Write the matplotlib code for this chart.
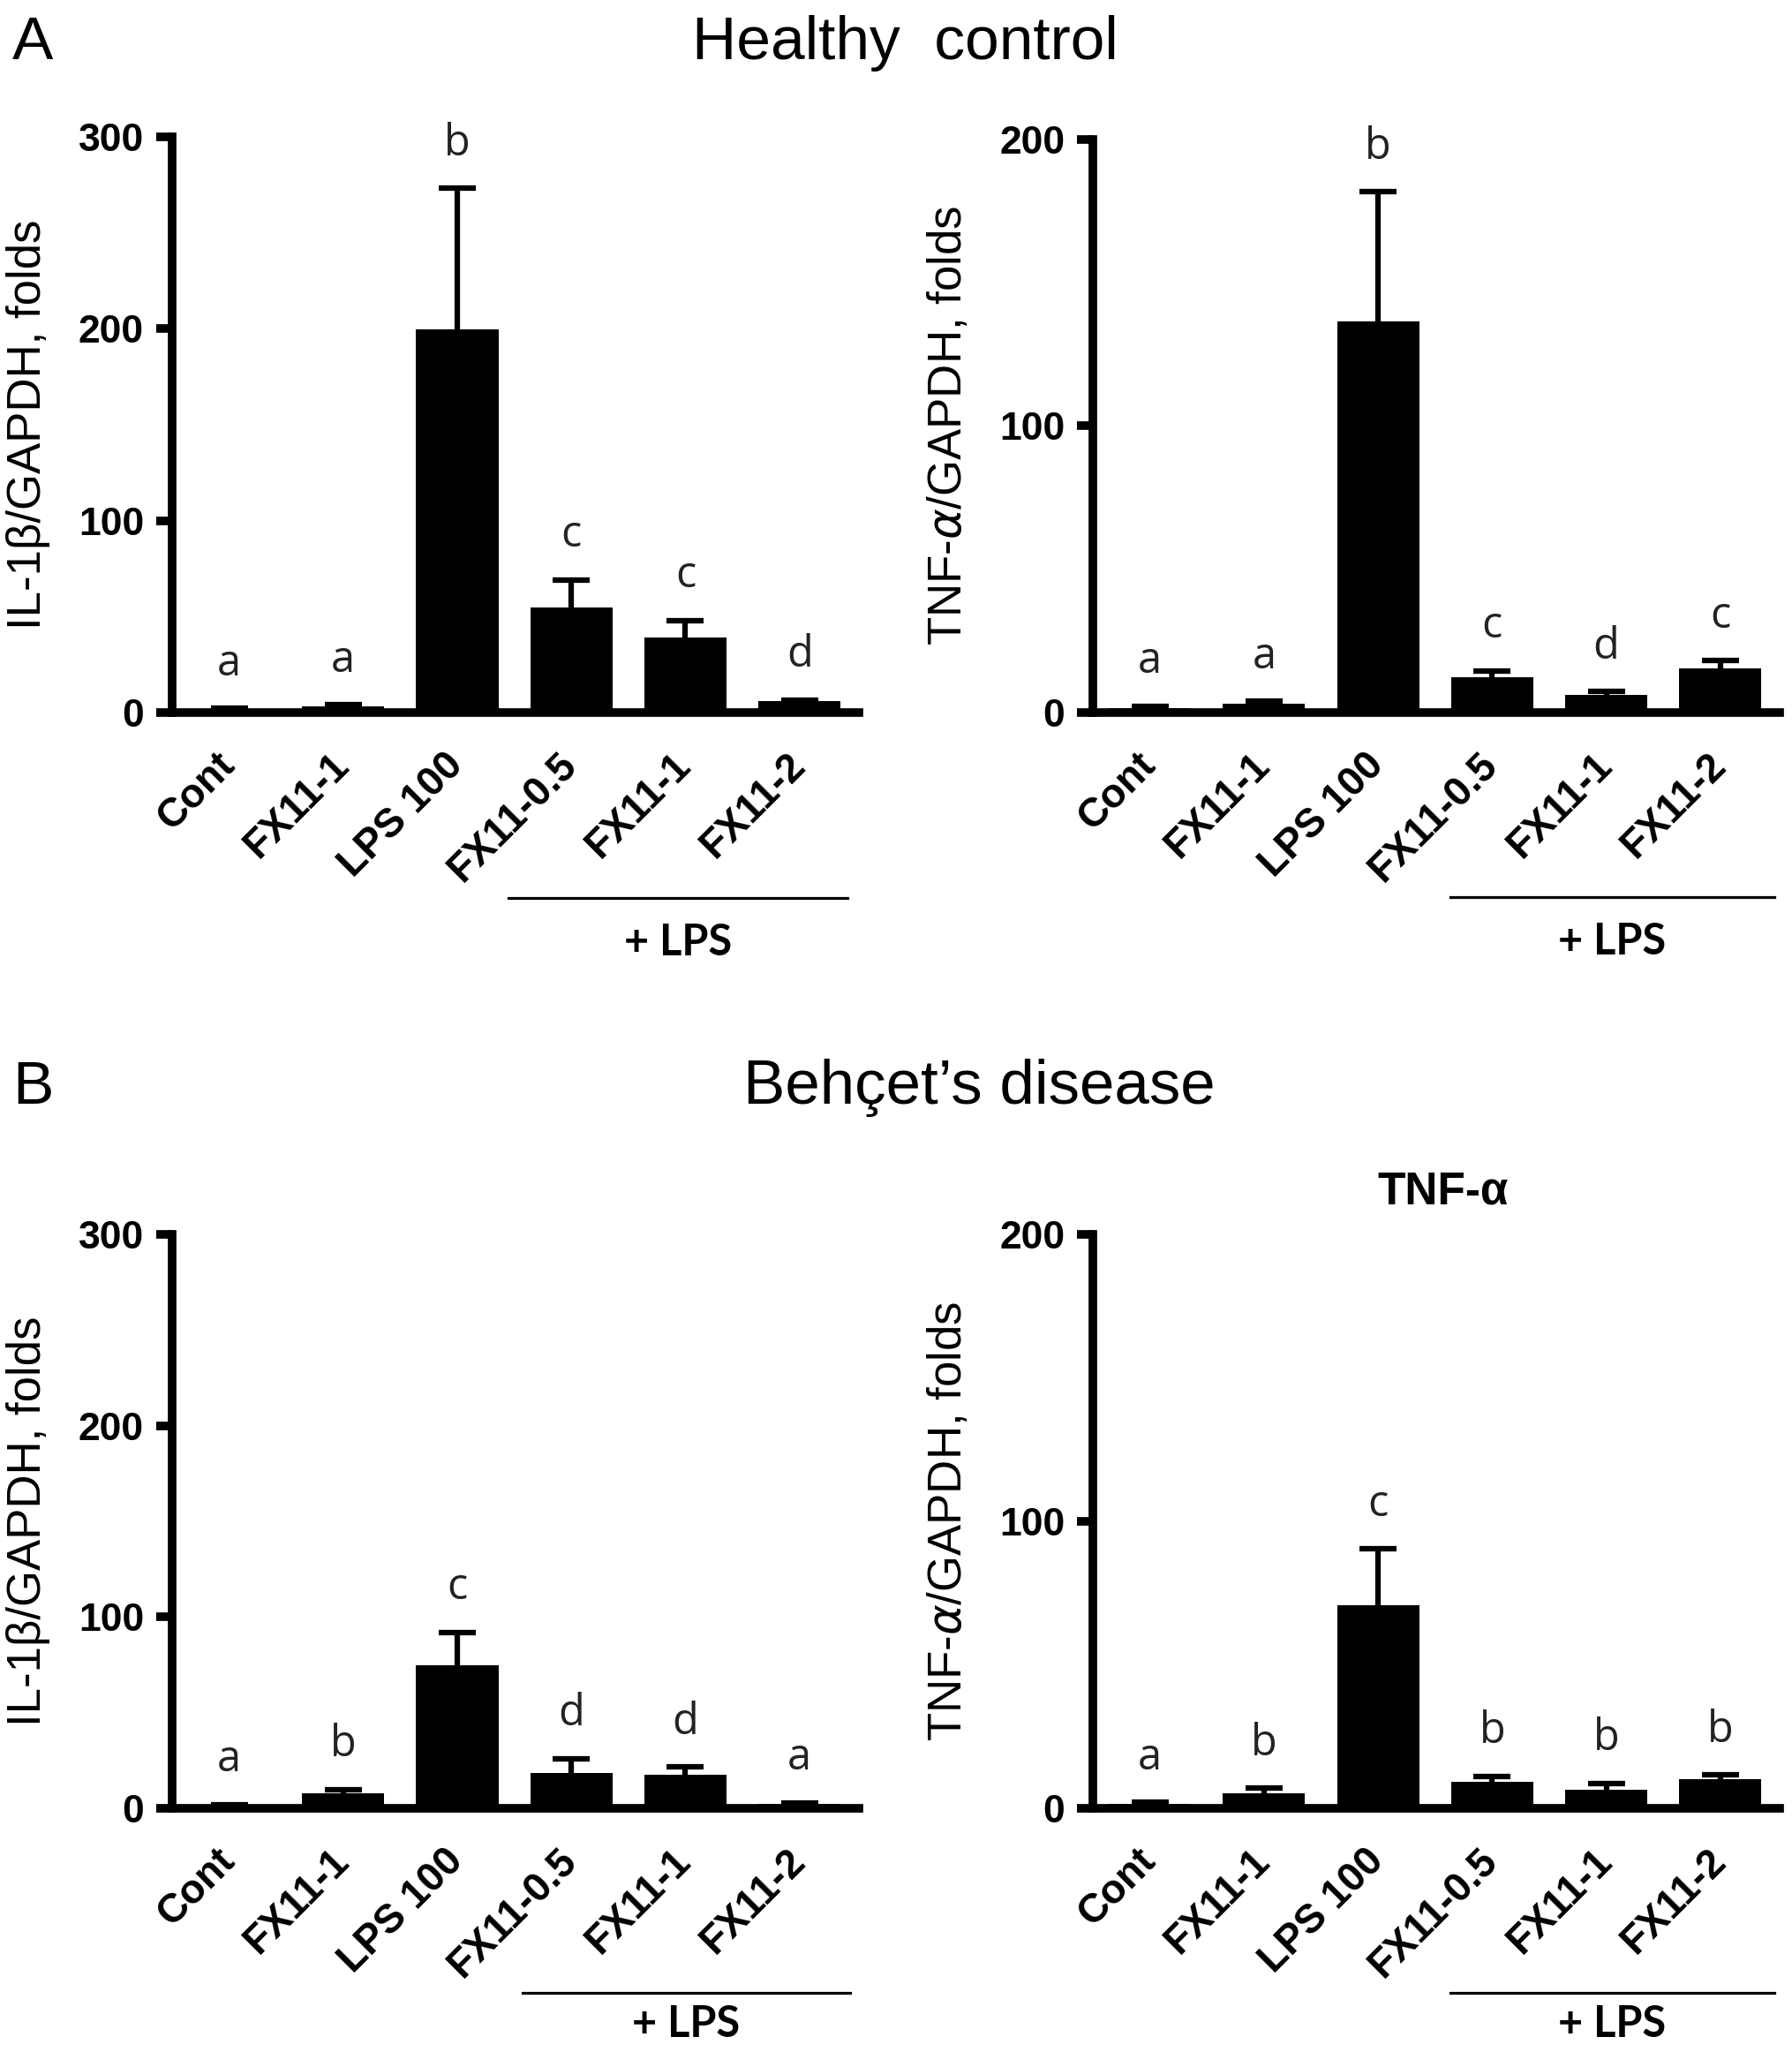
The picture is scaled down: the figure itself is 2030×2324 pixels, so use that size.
import matplotlib
matplotlib.use("Agg")
import numpy as np
import matplotlib.pyplot as plt
from matplotlib import transforms

plt.rcParams['font.family'] = ['Liberation Sans', 'DejaVu Sans']

groups = ["Cont", "FX11-1", "LPS 100", "FX11-0.5", "FX11-1", "FX11-2"]

# Healthy control
hc_il1b = [1.9, 3.2, 199.5, 54.5, 39.2, 5.8]
hc_il1b_err = [0.3, 0.7, 73.5, 14.6, 8.8, 0.7]
hc_il1b_sig = ["a", "a", "b", "c", "c", "d"]
hc_tnf = [1.5, 3.0, 136.4, 12.3, 6.0, 15.5]
hc_tnf_err = [0.7, 0.9, 45.3, 2.2, 1.3, 2.6]
hc_tnf_sig = ["a", "a", "b", "c", "d", "c"]

# Behcet's disease
bd_il1b = [1.7, 7.6, 74.7, 18.4, 17.4, 2.4]
bd_il1b_err = [0.3, 2.1, 17.3, 7.6, 4.1, 0.4]
bd_il1b_sig = ["a", "b", "c", "d", "d", "a"]
bd_tnf = [1.5, 5.1, 70.6, 9.3, 6.3, 10.2]
bd_tnf_err = [0.5, 1.8, 19.7, 1.8, 2.3, 1.4]
bd_tnf_sig = ["a", "b", "c", "b", "b", "b"]

fig = plt.figure(figsize=(20.31, 23.24), dpi=100)

LW = 7


def panel(rect, vals, errs, sig, ymax, yticks, ylabel, lps_span, lps_text_y):
    ax = fig.add_axes(rect)
    x = np.arange(len(vals))
    ax.bar(x, vals, width=0.72, color="black", zorder=2)
    eb = ax.errorbar(x, vals, yerr=[np.zeros(len(vals)), errs], fmt="none",
                     ecolor="black", elinewidth=4.5, capsize=15, capthick=4.5,
                     zorder=3)
    # only the upper cap is wanted
    for cap in eb[1]:
        if np.allclose(cap.get_ydata(), vals):
            cap.set_visible(False)
    for xi, v, e, s in zip(x, vals, errs, sig):
        ax.annotate(s, (xi, v + e), xytext=(0, 27), textcoords="offset points",
                    ha="center", va="baseline", fontsize=35, color="#222222",
                    family=["Open Sans", "DejaVu Sans"])
    ax.set_xlim(-0.5, 5.52)
    ax.set_ylim(0, ymax)
    ax.set_yticks(yticks)
    ax.set_yticklabels([str(t) for t in yticks], fontsize=32, fontweight="bold")
    ax.set_xticks(x)
    ax.set_xticklabels(groups, rotation=45, ha="right", va="center",
                       rotation_mode="anchor", fontsize=33, fontweight="bold")
    ax.tick_params(axis="x", length=0, pad=38)
    ax.tick_params(axis="y", direction="out", length=13, width=LW, pad=10)
    for side in ["top", "right"]:
        ax.spines[side].set_visible(False)
    for side in ["left", "bottom"]:
        ax.spines[side].set_linewidth(LW)
    ax.set_ylabel(ylabel, fontsize=38)
    ax.yaxis.set_label_coords(-0.178, 0.5)

    # + LPS bracket under the treated groups
    trans = transforms.blended_transform_factory(ax.transData, ax.transAxes)
    ax.plot(lps_span, [-0.322, -0.322], color="black", lw=2.3,
            transform=trans, clip_on=False)
    ax.text(np.mean(lps_span), lps_text_y, "+ LPS", transform=trans, ha="center",
            va="center", fontsize=35, fontweight="bold",
            family=["Lato", "DejaVu Sans"])
    return ax


panel([0.0960, 0.6528, 0.3830, 0.2806], hc_il1b, hc_il1b_err, hc_il1b_sig,
      300, [0, 100, 200, 300], "IL-1β/GAPDH, folds", [2.45, 5.42], -0.40)
panel([0.6096, 0.6528, 0.3830, 0.2793], hc_tnf, hc_tnf_err, hc_tnf_sig,
      200, [0, 100, 200], r"TNF-$\alpha$/GAPDH, folds", [2.63, 5.47], -0.40)
panel([0.0960, 0.1188, 0.3830, 0.2797], bd_il1b, bd_il1b_err, bd_il1b_sig,
      300, [0, 100, 200, 300], "IL-1β/GAPDH, folds", [2.57, 5.44], -0.377)
panel([0.6096, 0.1188, 0.3830, 0.2797], bd_tnf, bd_tnf_err, bd_tnf_sig,
      200, [0, 100, 200], r"TNF-$\alpha$/GAPDH, folds", [2.63, 5.47], -0.377)
fig.text(0.805, 0.419, "TNF-α", ha="center", va="center", fontsize=37,
         fontweight="bold")

fig.text(0.007, 0.979, "A", ha="left", va="center", fontsize=50)
fig.text(0.505, 0.979, "Healthy  control", ha="center", va="center", fontsize=50)
fig.text(0.007, 0.470, "B", ha="left", va="center", fontsize=50)
fig.text(0.546, 0.470, "Behçet’s disease", ha="center", va="center", fontsize=51)

fig.savefig("out.png", dpi=100, facecolor="white")
